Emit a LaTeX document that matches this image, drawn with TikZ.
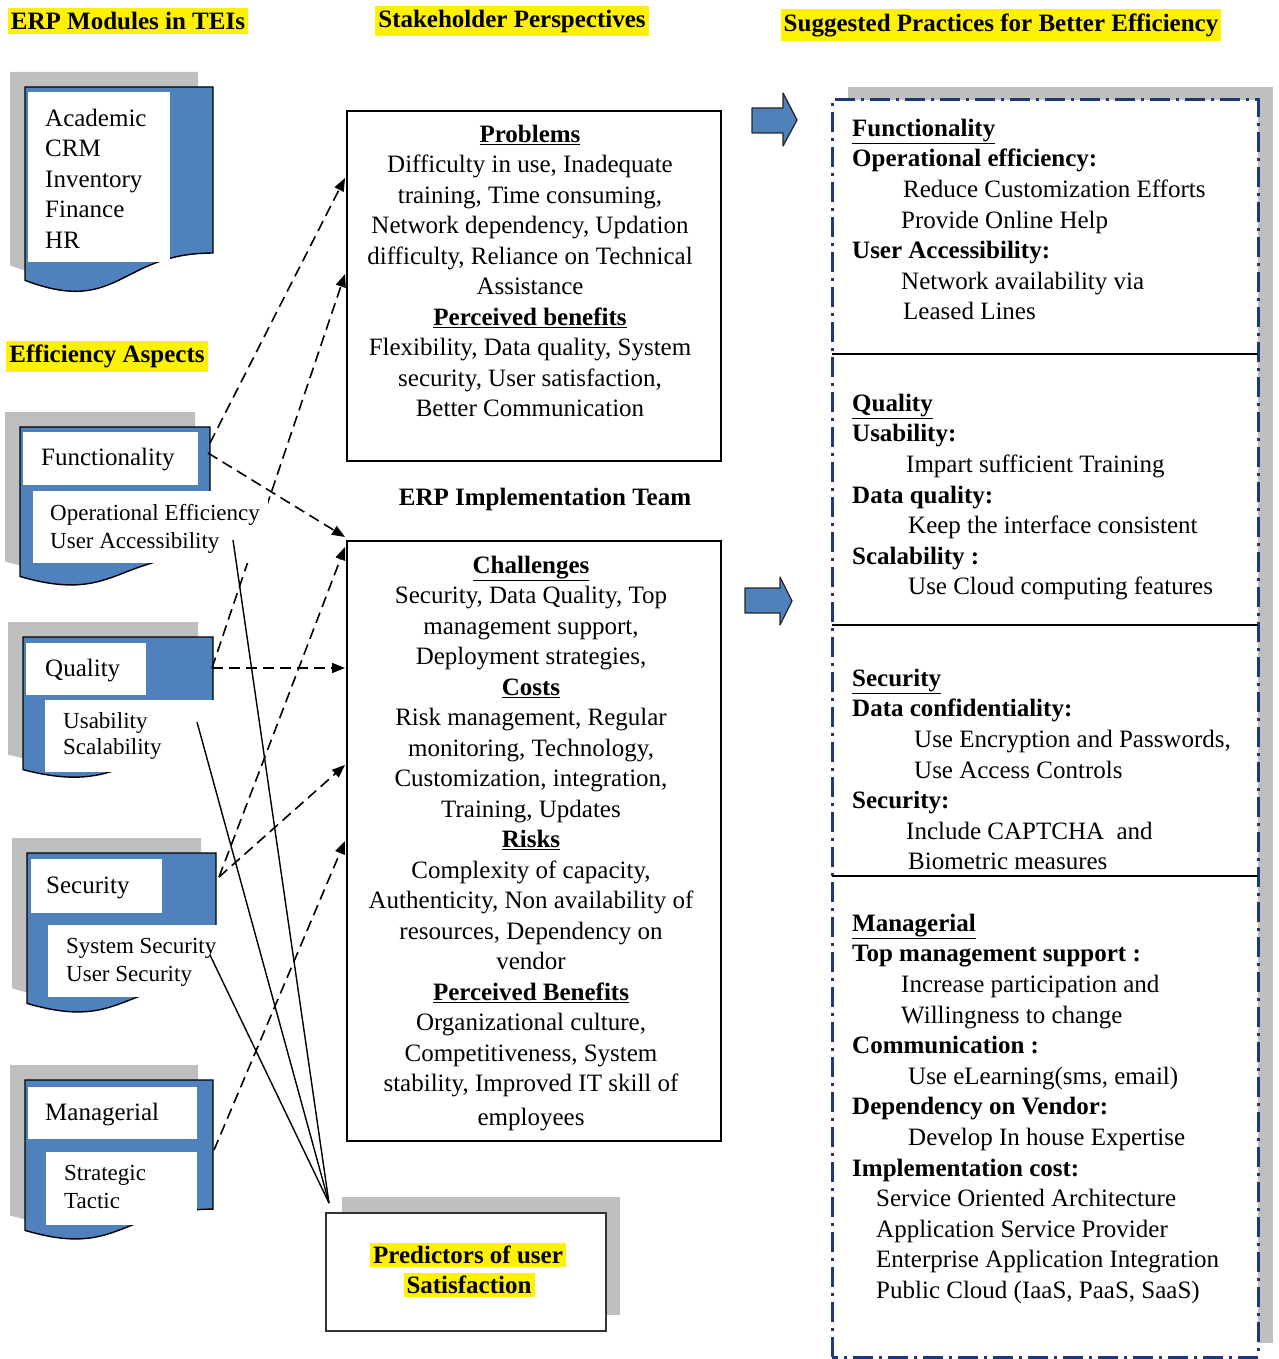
\documentclass[tikz,border=0pt]{standalone}
\usepackage{fontspec}
\setmainfont{Liberation Serif}
\usetikzlibrary{arrows.meta}
\definecolor{accblue}{RGB}{79,129,189}
\definecolor{shd}{RGB}{191,191,191}
\definecolor{dkblue}{RGB}{31,56,120}
\newcommand{\fs}{\fontsize{25}{30.5}\selectfont}
\newcommand{\fsr}{\fontsize{25}{30.6}\selectfont}
\newcommand{\fss}{\fontsize{23}{27.5}\selectfont}
\newcommand{\sr}{\rule{0pt}{20pt}}
\newcommand{\srs}{\rule{0pt}{18pt}}
\newcommand{\docshp}[5]{%
  \pgfmathsetmacro\dBR{#2+0.802*#4}%
  \pgfmathsetmacro\dBL{#2+0.934*#4}%
  \pgfmathsetmacro\dC{#2+1.107*#4}%
  \pgfmathsetmacro\dM{(#1+#3)/2}%
  \path[#5] (#1,#2) -- (#3,#2) -- (#3,\dBR) .. controls (\dM,\dBR) and (\dM,\dC) .. (#1,\dBL) -- cycle;}
\begin{document}
\begin{tikzpicture}[x=1pt,y=-1pt,
  txt/.style={inner sep=0pt, font=\fs},
  txts/.style={inner sep=0pt, font=\fss, align=left, anchor=north west},
  hl/.style={fill=yellow, inner xsep=3pt, inner ysep=4pt, font=\fs\bfseries},
  dasharrow/.style={draw, line width=1.6pt, dash pattern=on 11pt off 6pt, -{Triangle[length=13pt,width=10pt]}},
  solidln/.style={draw, line width=1.4pt},
  cbox/.style={draw, line width=1.8pt, fill=white, anchor=north west, inner sep=0pt},
  docfill/.style={fill=accblue, draw=black, line width=1.4pt},
  shdfill/.style={fill=shd},
  blockarrow/.style={fill=accblue, draw=black!85, line width=1.3pt, line join=round},
  secline/.style={draw=black, line width=2pt},
]
\useasboundingbox (0,0) rectangle (1278,1359);

% ---------------- titles ----------------
\node[hl] (t1) at (128,21) {ERP Modules in TEIs};
\node[hl] (t2) at (512,21) {Stakeholder Perspectives};
\node[hl] (t3) at (1001,25) {Suggested Practices for Better Efficiency};
\node[hl] (t4) at (107,356) {Efficiency Aspects};

% ---------------- ERP modules document ----------------
\docshp{10}{72}{198}{207}{shdfill}
\docshp{25}{87}{213}{207}{docfill}
\fill[white] (28,92) rectangle (170,262);
\node[txt, align=left, anchor=north west] (mods) at (45,106)
  {\sr Academic\\CRM\\Inventory\\Finance\\HR};

% ---------------- Functionality ----------------
\docshp{5}{412}{195}{160}{shdfill}
\docshp{20}{427}{210}{160}{docfill}
\fill[white] (23,432) rectangle (198,485);
\node[txt, anchor=base west] (funct) at (41,465) {Functionality};

% ---------------- Quality ----------------
\docshp{8}{622}{198}{142}{shdfill}
\docshp{23}{637}{213}{142}{docfill}
\fill[white] (26,643) rectangle (146,695);
\node[txt, anchor=base west] (qualt) at (45,676) {Quality};

% ---------------- Security ----------------
\docshp{12}{838}{201}{161}{shdfill}
\docshp{27}{853}{216}{161}{docfill}
\fill[white] (31,859) rectangle (162,913);
\node[txt, anchor=base west] (sect) at (46,893) {Security};

% ---------------- Managerial ----------------
\docshp{10}{1065}{198}{161}{shdfill}
\docshp{25}{1080}{213}{161}{docfill}
\fill[white] (28,1087) rectangle (197,1139);
\node[txt, anchor=base west] (mant) at (45,1120) {Managerial};

% ---------------- centre boxes ----------------
\node[cbox, minimum width=374pt, minimum height=350pt] (prob) at (346,110) {};
\node[txt, align=center, anchor=north] (probtxt) at (530,122)
  {\sr\underline{\textbf{Problems}}\\
   Difficulty in use, Inadequate\\
   training, Time consuming,\\
   Network dependency, Updation\\
   difficulty, Reliance on Technical\\
   Assistance\\
   \underline{\textbf{Perceived benefits}}\\
   Flexibility, Data quality, System\\
   security, User satisfaction,\\
   Better Communication};

\node[txt, font=\fs\bfseries, anchor=base] (team) at (545,505) {ERP Implementation Team};

\node[cbox, minimum width=374pt, minimum height=600pt] (chal) at (346,540) {};
\node[txt, align=center, anchor=north] (chaltxt) at (531,553)
  {\sr\underline{\textbf{Challenges}}\\
   Security, Data Quality, Top\\
   management support,\\
   Deployment strategies,\\
   \underline{\textbf{Costs}}\\
   Risk management, Regular\\
   monitoring, Technology,\\
   Customization, integration,\\
   Training, Updates\\
   \underline{\textbf{Risks}}\\
   Complexity of capacity,\\
   Authenticity, Non availability of\\
   resources, Dependency on\\
   vendor\\
   \underline{\textbf{Perceived Benefits}}\\
   Organizational culture,\\
   Competitiveness, System\\
   stability, Improved IT skill of\\[3pt]
   employees};

% ---------------- predictors box ----------------
\fill[shd] (342,1197) rectangle (620,1315);
\node[cbox, draw=black!80, line width=2pt, minimum width=280pt, minimum height=118pt] (pred) at (325,1212) {};
\node[hl, inner ysep=3pt] (pred1) at (468,1255) {Predictors of user};
\node[hl, inner ysep=3pt] (pred2) at (469,1285) {Satisfaction};

% ---------------- connector end points ----------------
\coordinate (fA) at (210,443);
\coordinate (fB) at (208,453);
\coordinate (qA) at (212,668);
\coordinate (sA) at (219,877);
\coordinate (mA) at (214,1150);
\coordinate (pIn1) at (345,178);
\coordinate (pIn2) at (345,274);
\coordinate (cIn1) at (345,537);
\coordinate (cIn2) at (345,547);
\coordinate (cIn3) at (345,668);
\coordinate (cIn4) at (345,765);
\coordinate (cIn5) at (345,841);
\coordinate (fS) at (233,540);
\coordinate (qS) at (197,722);
\coordinate (sS) at (210,955);
\coordinate (pT) at (329,1203);

% dashed arrows
\draw[dasharrow] (fA) -- (pIn1);
\draw[dasharrow] (qA) -- (pIn2);
\draw[dasharrow] (fB) -- (cIn1);
\draw[dasharrow] (qA) -- (cIn3);
\draw[dasharrow] (sA) -- (cIn2);
\draw[dasharrow] (sA) -- (cIn4);
\draw[dasharrow] (mA) -- (cIn5);

% sub boxes (drawn over the dashed lines)
\fill[white] (33,491) rectangle (268,563);
\node[txts, font=\fontsize{23}{28}\selectfont] (fsub) at (50,502) {\srs Operational Efficiency\\User Accessibility};
\fill[white] (45,700) rectangle (216,772);
\node[txts, font=\fontsize{23}{26.5}\selectfont] (qsub) at (63,710) {\srs Usability\\Scalability};
\fill[white] (48,925) rectangle (219,997);
\node[txts, font=\fontsize{23}{28}\selectfont] (ssub) at (66,935) {\srs System Security\\User Security};
\fill[white] (46,1152) rectangle (197,1225);
\node[txts, font=\fontsize{23}{28}\selectfont] (msub) at (64,1162) {\srs Strategic\\Tactic};

% solid lines to predictors
\draw[solidln] (fS) -- (pT);
\draw[solidln] (qS) -- (pT);
\draw[solidln] (sS) -- (pT);

% ---------------- block arrows ----------------
\draw[blockarrow] (752,108) -- (783,108) -- (783,93) -- (797,120) -- (783,146) -- (783,133) -- (752,133) -- cycle;
\draw[blockarrow] (745,588) -- (780,588) -- (780,577) -- (792,601) -- (780,625) -- (780,613) -- (745,613) -- cycle;

% ---------------- right box ----------------
\fill[shd] (848,87) rectangle (1273,1343);
\fill[white] (832,100) rectangle (1258,1359);
\draw[dkblue, line width=3pt, dash pattern=on 20pt off 6pt on 3pt off 6pt]
  (832,1357) -- (832,100) -- (1258,100) -- (1258,1357) -- cycle;
\draw[secline] (832,354) -- (1258,354);
\draw[secline] (832,625) -- (1258,625);
\draw[secline] (832,876) -- (1258,876);

\node[txt, font=\fsr, align=left, anchor=north west] (rs1) at (852,116)
  {\sr\underline{\textbf{Functionality}}\\
   \textbf{Operational efficiency:}\\
   \hspace*{51pt}Reduce Customization Efforts\\
   \hspace*{49pt}Provide Online Help\\
   \textbf{User Accessibility:}\\
   \hspace*{49pt}Network availability via\\
   \hspace*{51pt}Leased Lines};

\node[txt, font=\fsr, align=left, anchor=north west] (rs2) at (852,391)
  {\sr\underline{\textbf{Quality}}\\
   \textbf{Usability:}\\
   \hspace*{54pt}Impart sufficient Training\\
   \textbf{Data quality:}\\
   \hspace*{56pt}Keep the interface consistent\\
   \textbf{Scalability :}\\
   \hspace*{56pt}Use Cloud computing features};

\node[txt, font=\fsr, align=left, anchor=north west] (rs3) at (852,666)
  {\sr\underline{\textbf{Security}}\\
   \textbf{Data confidentiality:}\\
   \hspace*{62pt}Use Encryption and Passwords,\\
   \hspace*{62pt}Use Access Controls\\
   \textbf{Security:}\\
   \hspace*{54pt}Include CAPTCHA\ \ and\\
   \hspace*{56pt}Biometric measures};

\node[txt, font=\fsr, align=left, anchor=north west] (rs4) at (852,911)
  {\sr\underline{\textbf{Managerial}}\\
   \textbf{Top management support :}\\
   \hspace*{49pt}Increase participation and\\
   \hspace*{49pt}Willingness to change\\
   \textbf{Communication :}\\
   \hspace*{56pt}Use eLearning(sms, email)\\
   \textbf{Dependency on Vendor:}\\
   \hspace*{56pt}Develop In house Expertise\\
   \textbf{Implementation cost:}\\
   \hspace*{24pt}Service Oriented Architecture\\
   \hspace*{24pt}Application Service Provider\\
   \hspace*{24pt}Enterprise Application Integration\\
   \hspace*{24pt}Public Cloud (IaaS, PaaS, SaaS)};

\end{tikzpicture}
\end{document}
